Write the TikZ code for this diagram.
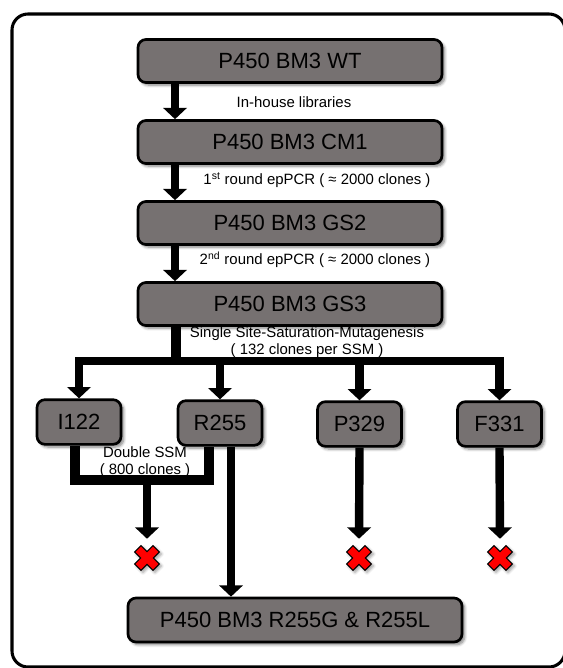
\documentclass[tikz,border=0pt]{standalone}
\usepackage{fontspec}
\setmainfont{Liberation Sans}
\usetikzlibrary{arrows.meta, positioning, shadows.blur}
\definecolor{boxgray}{HTML}{767171}
\definecolor{crossred}{HTML}{FF0000}
\tikzstyle{box} = [rectangle, draw, fill=boxgray, rounded corners=6pt, line width=2pt, minimum width=228pt, minimum height=32.25pt, font=\fontsize{16.5}{19}\selectfont, blur shadow={shadow xshift=2pt, shadow yshift=-2pt, shadow blur steps=6, shadow opacity=50}]
\tikzstyle{smallbox} = [box, minimum width=63pt, minimum height=33.5pt]
\tikzstyle{arrow} = [-{Triangle[width=17.5pt,length=8.5pt]}, line width=6.3pt]
\tikzstyle{line} = [line width=6.8pt, line join=miter]
\tikzstyle{note} = [align=center, font=\fontsize{11.2}{13}\selectfont, inner sep=0pt]
\tikzstyle{xmark} = [minimum width=26pt, minimum height=28.5pt, inner sep=0pt]
\tikzset{redx/.pic={
  \filldraw[fill=crossred, line width=0.8pt, line join=miter, blur shadow={shadow xshift=1.5pt, shadow yshift=-1.5pt, shadow blur steps=4}]
    (-6,12.4) -- (0,6.4) -- (6,12.4) -- (12.4,6) -- (6.4,0) -- (12.4,-6) -- (6,-12.4) -- (0,-6.4)
    -- (-6,-12.4) -- (-12.4,-6) -- (-6.4,0) -- (-12.4,6) -- cycle;
}}

\begin{document}
\begin{tikzpicture}[x=0.75pt, y=-0.75pt, node distance=26.5pt]
\useasboundingbox (0,0) rectangle (563,668);

% outer frame
\draw[line width=2.3pt, rounded corners=12pt] (12,14) rectangle (565,667);

% main chain
\node[box] (wt) at (290,61) {P450 BM3 WT};
\node[box, below=of wt] (cm1) {P450 BM3 CM1};
\node[box, below=of cm1] (gs2) {P450 BM3 GS2};
\node[box, below=of gs2] (gs3) {P450 BM3 GS3};

% SSM positions
\node[smallbox] (i122) at (79,422) {I122};
\node[smallbox] (r255) at (220,423) {R255};
\node[smallbox] (p329) at (359.5,424) {P329};
\node[smallbox] (f331) at (499.5,424) {F331};

\node[box, minimum width=250.5pt, minimum height=33pt] (final) at (295,620) {P450 BM3 R255G \& R255L};

% dead ends
\node[xmark] (x1) at (147,558) {};
\node[xmark] (x2) at (359,558) {};
\node[xmark] (x3) at (500,558) {};
\pic at (x1) {redx};
\pic at (x2) {redx};
\pic at (x3) {redx};

% texts
\node[note] (lib) at (294,102) {In-house libraries};
\node[note] (ep1) at (317,180) {1\textsuperscript{st} round epPCR ( ≈ 2000 clones )};
\node[note] (ep2) at (315,260) {2\textsuperscript{nd} round epPCR ( ≈ 2000 clones )};
\node[note] (ssm) at (307,342) {Single Site-Saturation-Mutagenesis\\( 132 clones per SSM )};
\node[note, font=\fontsize{11.2}{12.5}\selectfont] (dssm) at (145,462) {Double SSM\\( 800 clones )};

% columns
\coordinate (col) at (175,0);
\coordinate (lpin) at (75,0);
\coordinate (rpin) at (209,0);
\coordinate (rlong) at (231,0);
\coordinate (split) at (176,361);
\coordinate (dbl) at (147,480);

\draw[arrow] (wt.south -| col) -- (cm1.north -| col);
\draw[arrow] (cm1.south -| col) -- (gs2.north -| col);
\draw[arrow] (gs2.south -| col) -- (gs3.north -| col);

\draw[line] (gs3.south -| split) -- (split);
\draw[arrow, line join=miter] (split) -| (i122.north);
\draw[arrow, line join=miter] (split) -| (f331.north);
\draw[arrow] (split -| r255.north) -- (r255.north);
\draw[arrow] (split -| p329.north) -- (p329.north);

\draw[line] (i122.south -| lpin) |- (dbl) -| (r255.south -| rpin);
\draw[arrow] (dbl) -- (x1.north);
\draw[arrow] (r255.south -| rlong) -- (final.north -| rlong);
\draw[arrow] (p329.south) -- (x2.north);
\draw[arrow] (f331.south) -- (x3.north);

\end{tikzpicture}
\end{document}
